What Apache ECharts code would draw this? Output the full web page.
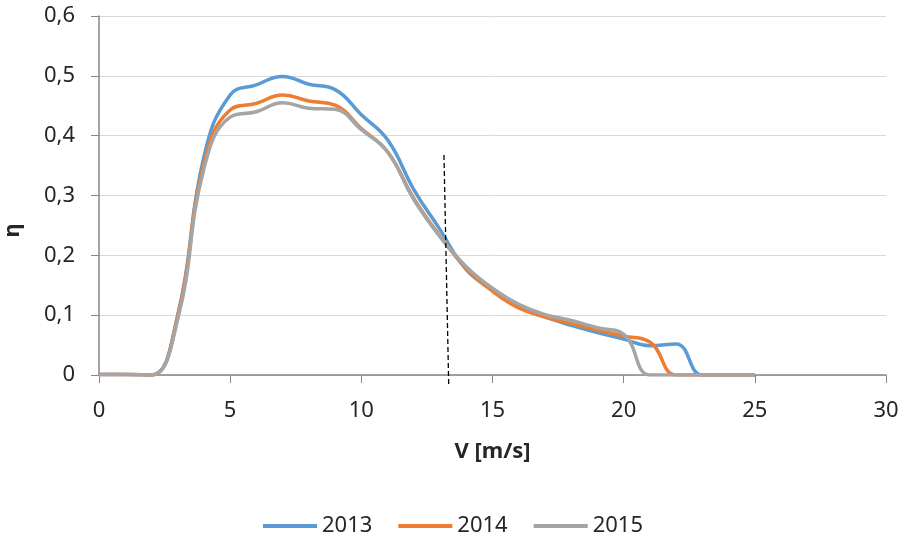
<!DOCTYPE html>
<html>
<head>
<meta charset="utf-8">
<script src="https://cdn.jsdelivr.net/npm/echarts@6/dist/echarts.min.js"></script>
<style>
	html, body { margin: 0; padding: 0; background: #fff; }
	#chart { width: 906px; height: 536px; }
</style>
</head>
<body>
<div id="chart"></div>
<script>
var speeds = [0, 1, 2, 3, 4, 5, 6, 7, 8, 9, 10, 11, 12, 13, 14, 15, 16, 17, 18, 19, 20, 21, 22, 23, 24, 25];
var eta2013 = [0.001, 0.001, 0, 0.1, 0.365, 0.468, 0.485, 0.499, 0.486, 0.477, 0.435, 0.393, 0.31, 0.243, 0.176, 0.142, 0.114, 0.097, 0.083, 0.071, 0.06, 0.049, 0.052, 0, 0, 0];
var eta2014 = [0.001, 0.001, 0, 0.098, 0.354, 0.443, 0.454, 0.468, 0.458, 0.451, 0.412, 0.373, 0.295, 0.232, 0.178, 0.14, 0.112, 0.097, 0.086, 0.075, 0.065, 0.055, 0, 0, 0, 0];
var eta2015 = [0.001, 0.001, 0, 0.093, 0.345, 0.431, 0.44, 0.455, 0.446, 0.444, 0.41, 0.373, 0.293, 0.231, 0.181, 0.145, 0.118, 0.101, 0.091, 0.079, 0.068, 0, 0, 0, 0, 0];
var years = ["2013", "2014", "2015"];
var color = ["#5B9BD5", "#ED7D31", "#A5A5A5"];
// dashed marker line (bottom point, top point)
var markLine = [[13.33, -0.015], [13.15, 0.368]];

var font = "'Noto Sans', sans-serif";
var textColor = "#262626";

function pairs(xs, ys) {
	return xs.map(function (x, i) {
		return [x, ys[i]];
	});
}

var myChart = echarts.init(document.getElementById("chart"), null, { renderer: "canvas" });

var lines = [eta2013, eta2014, eta2015].map(function (d, i) {
	return {
		name: years[i],
		type: "line",
		data: pairs(speeds, d),
		smooth: 0.45,
		showSymbol: false,
		lineStyle: { width: 3.5, color: color[i] },
		itemStyle: { color: color[i] },
		z: 3 + i
	};
});

lines.push({
	name: "mark",
	type: "line",
	data: markLine,
	showSymbol: false,
	clip: false,
	lineStyle: { width: 1.3, color: "#000", type: [5, 3] },
	z: 10
});

var option = {
	animation: false,
	textStyle: { fontFamily: font },
	color: color,
	grid: {
		left: 99,
		right: 20,
		top: 16,
		bottom: 161,
		containLabel: false,
		outerBoundsMode: "none"
	},
	legend: {
		data: years,
		top: 510,
		left: "center",
		icon: "rect",
		itemWidth: 54,
		itemHeight: 4,
		itemGap: 26,
		textStyle: { fontSize: 22, color: textColor, fontFamily: font }
	},
	xAxis: {
		type: "value",
		min: 0,
		max: 30,
		interval: 5,
		name: "V [m/s]",
		nameLocation: "middle",
		nameGap: 66,
		nameTextStyle: { fontSize: 22, fontWeight: "bold", color: textColor, fontFamily: font },
		axisLine: { lineStyle: { color: "#868686", width: 1.5 } },
		axisTick: { show: true, length: 8, lineStyle: { color: "#868686" } },
		axisLabel: { fontSize: 22, color: textColor, margin: 25 },
		splitLine: { show: false }
	},
	yAxis: {
		type: "value",
		min: 0,
		max: 0.6,
		interval: 0.1,
		name: "η",
		nameLocation: "middle",
		nameGap: 75,
		nameRotate: 90,
		nameTextStyle: {
			fontSize: 22,
			fontWeight: "bold",
			color: textColor,
			fontFamily: font,
			padding: [0, 70, 0, 0]
		},
		axisLine: { show: true, lineStyle: { color: "#868686", width: 1.5 } },
		axisTick: { show: true, length: 8, lineStyle: { color: "#868686" } },
		axisLabel: {
			fontSize: 22,
			color: textColor,
			margin: 24,
			formatter: function (v) {
				return String(Math.round(v * 10) / 10).replace(".", ",");
			}
		},
		splitLine: { lineStyle: { color: "#d9d9d9", width: 1 } }
	},
	series: lines
};
myChart.setOption(option);
</script>
</body>
</html>
